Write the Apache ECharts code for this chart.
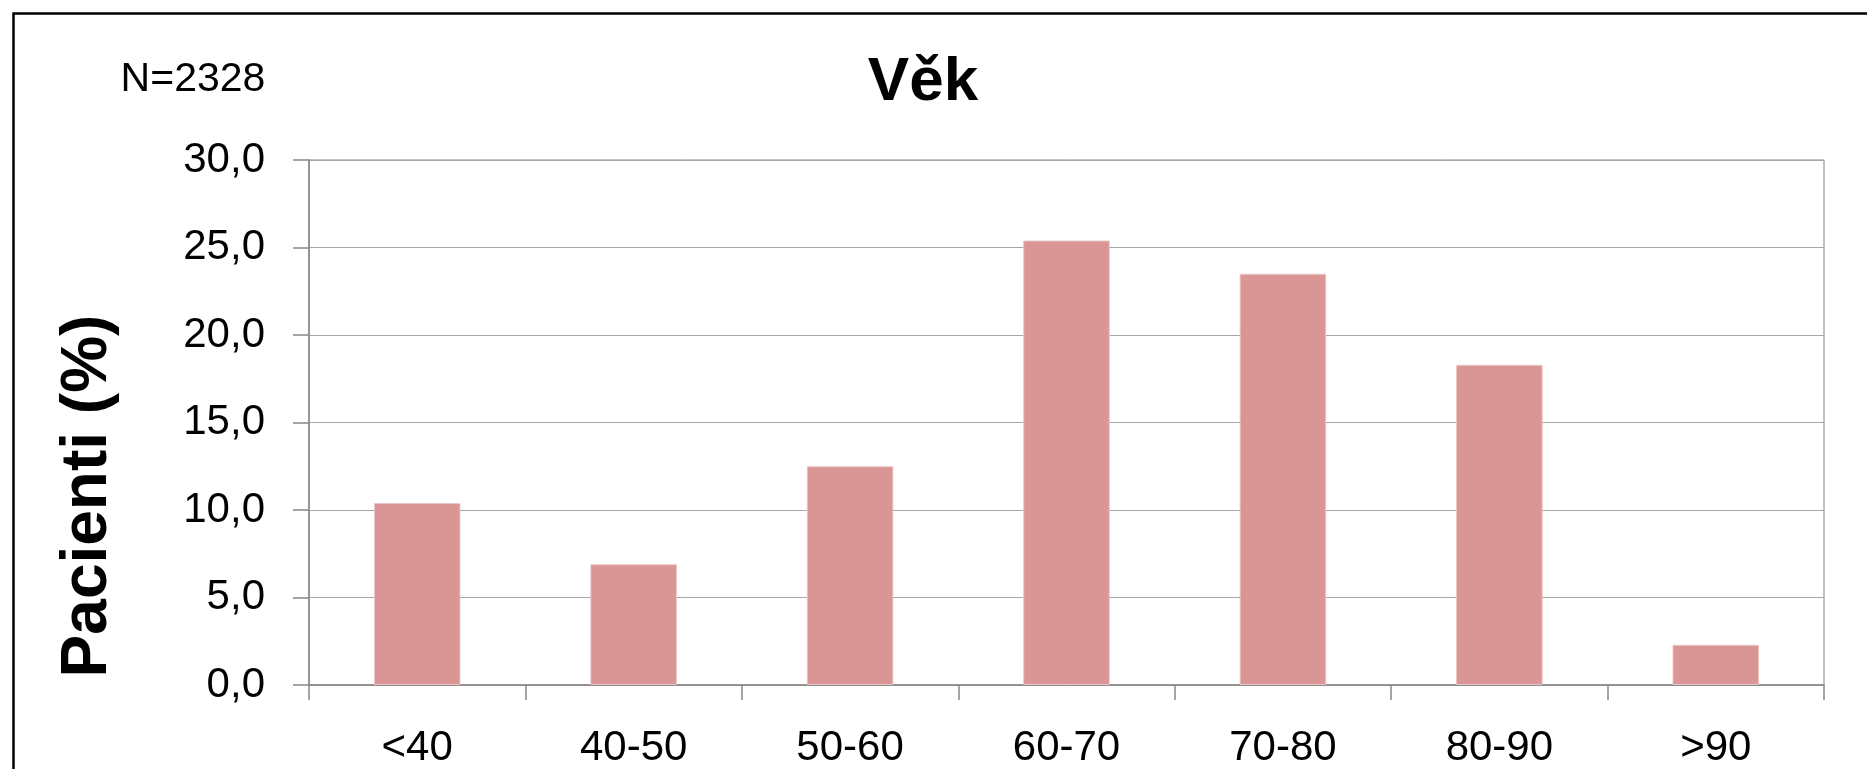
<!DOCTYPE html>
<html>
<head>
<meta charset="utf-8">
<script src="https://cdn.jsdelivr.net/npm/echarts@6/dist/echarts.min.js"></script>
<style>
html,body{margin:0;padding:0;background:#fff;}
#chart{width:1867px;height:769px;}
</style>
</head>
<body>
<div id="chart"></div>
<script>
const categories = ['<40', '40-50', '50-60', '60-70', '70-80', '80-90', '>90'];
const values = [10.4, 6.9, 12.5, 25.4, 23.5, 18.3, 2.3];
const yTicks = { min: 0, max: 30, interval: 5 };
const titleText = 'Věk';
const nText = 'N=2328';
const yName = 'Pacienti (%)';

const FONT = '"Liberation Sans", Arial, sans-serif';
const chart = echarts.init(document.getElementById('chart'), null, { renderer: 'canvas' });
chart.setOption({
  animation: false,
  backgroundColor: '#ffffff',
  grid: {
    left: 309, right: 43, top: 160, bottom: 83,
    show: true, borderColor: '#868686', borderWidth: 1, backgroundColor: 'transparent'
  },
  graphic: [
    { type: 'rect', left: 11, top: 11, silent: true,
      shape: { width: 1900, height: 800 },
      style: { fill: 'none', stroke: '#000', lineWidth: 2.5 } },
    { type: 'text', x: 923, y: 83, silent: true,
      style: { text: titleText, font: 'bold 62px ' + FONT, fill: '#000',
               textAlign: 'center', textVerticalAlign: 'middle' } },
    { type: 'text', x: 193, y: 80, silent: true,
      style: { text: nText, font: '41px ' + FONT, fill: '#000',
               textAlign: 'center', textVerticalAlign: 'middle' } },
    { type: 'text', x: 88, y: 496, rotation: Math.PI / 2, silent: true,
      style: { text: yName, font: 'bold 64px ' + FONT, fill: '#000',
               textAlign: 'center', textVerticalAlign: 'middle' } }
  ],
  xAxis: {
    type: 'category',
    data: categories,
    boundaryGap: true,
    axisLine: { show: true, lineStyle: { color: '#868686', width: 1.5 } },
    axisTick: { show: true, length: 15, alignWithLabel: false, lineStyle: { color: '#868686', width: 1.5 } },
    axisLabel: { fontFamily: FONT, fontSize: 42, color: '#000', margin: 42, interval: 0 },
    splitLine: { show: false }
  },
  yAxis: {
    type: 'value',
    min: yTicks.min, max: yTicks.max, interval: yTicks.interval,
    axisLine: { show: true, lineStyle: { color: '#868686', width: 1.5 } },
    axisTick: { show: true, length: 16, lineStyle: { color: '#868686', width: 1.5 } },
    axisLabel: { fontFamily: FONT, fontSize: 42, color: '#000', margin: 44,
                 formatter: v => v.toFixed(1).replace('.', ',') },
    splitLine: { show: true, lineStyle: { color: '#a6a6a6', width: 1 } }
  },
  series: [{
    type: 'bar',
    data: values,
    barWidth: '40%',
    itemStyle: { color: '#D99694', borderColor: '#EBC6C5', borderWidth: 1 }
  }]
});
</script>
</body>
</html>
